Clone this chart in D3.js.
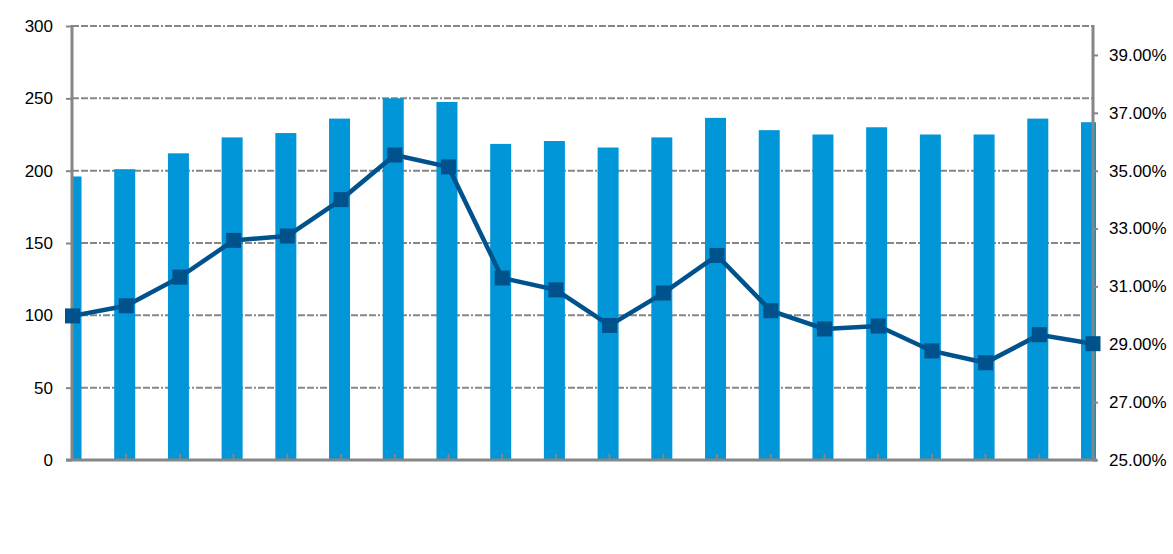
<!DOCTYPE html>
<html>
<head>
<meta charset="utf-8">
<script src="https://cdn.jsdelivr.net/npm/d3@7"></script>
<style>
  body { margin: 0; background: #fff; }
  svg { display: block; font-family: "Liberation Sans", Arial, sans-serif; }
</style>
</head>
<body>
<script>
const categories = d3.range(1, 21).map(String);
const barValues = [196, 201, 212, 223, 226, 236, 250, 247.5, 218.5, 220.5, 216, 223, 236.5, 228, 225, 230, 225, 225, 236, 233.5];
const rateValues = [29.98, 30.33, 31.32, 32.59, 32.74, 34.0, 35.54, 35.13, 31.29, 30.88, 29.65, 30.77, 32.07, 30.16, 29.53, 29.63, 28.77, 28.36, 29.33, 29.02];
const leftTicks = [0, 50, 100, 150, 200, 250, 300];
const rightTicks = [25, 27, 29, 31, 33, 35, 37, 39];

const width = 1173, height = 554;
const plotL = 72, plotR = 1093, plotT = 26, plotB = 460;
const grey = "#868686";

const x = d3.scalePoint(categories, [plotL + 0.5, plotR]);
const y = d3.scaleLinear([0, 300], [plotB, plotT]);
const y2 = d3.scaleLinear([25, 40], [plotB, plotT]);
const barW = 21;

const svg = d3.select("body").append("svg")
    .attr("width", width)
    .attr("height", height);

svg.append("defs").append("clipPath")
    .attr("id", "plot")
  .append("rect")
    .attr("x", plotL)
    .attr("y", plotT - 2)
    .attr("width", plotR + 3 - plotL)
    .attr("height", plotB - plotT + 2);

// gridlines
svg.append("g")
    .attr("stroke", grey)
    .attr("stroke-width", 2)
    .attr("stroke-dasharray", "7,2,7,2,7,2,2,2")
  .selectAll("line")
  .data(leftTicks.filter(d => d > 0))
  .join("line")
    .attr("x1", plotL)
    .attr("x2", plotR)
    .attr("y1", d => y(d))
    .attr("y2", d => y(d));

// bars
svg.append("g")
    .attr("clip-path", "url(#plot)")
    .attr("fill", "#0096D8")
  .selectAll("rect")
  .data(barValues)
  .join("rect")
    .attr("x", (d, i) => x(categories[i]) - 1.5 - barW / 2)
    .attr("width", barW)
    .attr("y", d => y(d))
    .attr("height", d => plotB - y(d));

// left axis
const yAxis = svg.append("g")
    .attr("transform", `translate(${plotL},0)`)
    .call(d3.axisLeft(y).tickValues(leftTicks).tickSize(6).tickPadding(13));
yAxis.select(".domain").remove();
yAxis.selectAll(".tick line").attr("stroke", grey).attr("stroke-width", 2);
yAxis.selectAll("text").attr("font-size", 17).attr("fill", "#000");
svg.append("line")
    .attr("x1", plotL).attr("x2", plotL)
    .attr("y1", plotT - 1).attr("y2", plotB)
    .attr("stroke", grey).attr("stroke-width", 3);

// right axis
const y2Axis = svg.append("g")
    .attr("transform", `translate(${plotR},0)`)
    .call(d3.axisRight(y2).tickValues(rightTicks).tickSize(5).tickPadding(11)
      .tickFormat(d => d.toFixed(2) + "%"));
y2Axis.select(".domain").remove();
y2Axis.selectAll(".tick line").attr("stroke", grey).attr("stroke-width", 2);
y2Axis.selectAll("text").attr("font-size", 17).attr("fill", "#000");
svg.append("line")
    .attr("x1", plotR).attr("x2", plotR)
    .attr("y1", plotT - 1).attr("y2", plotB)
    .attr("stroke", grey).attr("stroke-width", 3);

// bottom axis
svg.append("g")
    .attr("stroke", grey)
    .attr("stroke-width", 2)
  .selectAll("line")
  .data(categories.slice(1))
  .join("line")
    .attr("x1", d => x(d)).attr("x2", d => x(d))
    .attr("y1", plotB - 6).attr("y2", plotB);
svg.append("line")
    .attr("x1", plotL - 6).attr("x2", plotR + 4)
    .attr("y1", plotB).attr("y2", plotB)
    .attr("stroke", grey).attr("stroke-width", 3);

// rate line
const line = d3.line()
    .x((d, i) => x(categories[i]))
    .y(d => y2(d));

svg.append("path")
    .datum(rateValues)
    .attr("fill", "none")
    .attr("stroke", "#00528C")
    .attr("stroke-width", 4.5)
    .attr("d", line);

svg.append("g")
    .attr("fill", "#00528C")
  .selectAll("rect")
  .data(rateValues)
  .join("rect")
    .attr("x", (d, i) => x(categories[i]) - 7.5)
    .attr("y", d => y2(d) - 7.5)
    .attr("width", 15)
    .attr("height", 15);
</script>
</body>
</html>
